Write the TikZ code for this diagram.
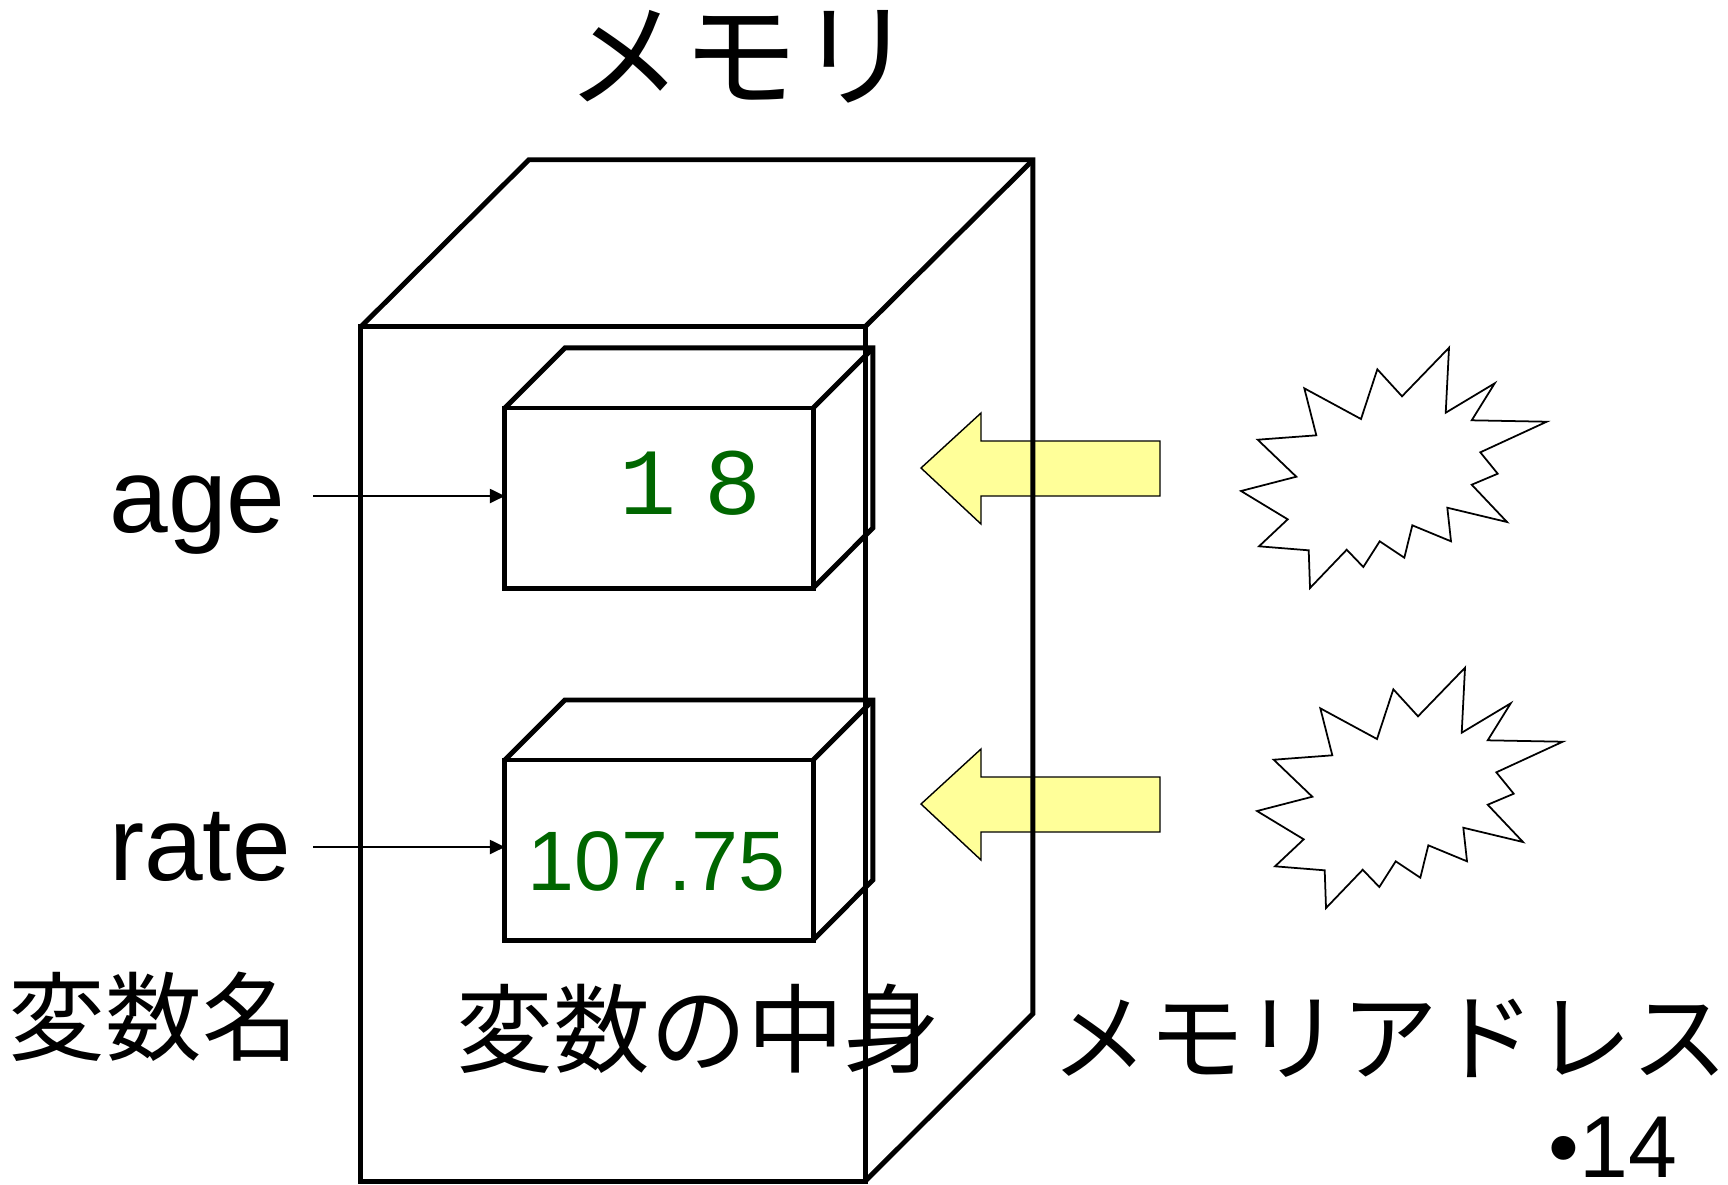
\documentclass[tikz,border=0pt]{standalone}
\usepackage{fontspec}
\setmainfont{Liberation Sans}
\newfontfamily\jp{Noto Sans CJK JP}
\newfontfamily\mono{Liberation Mono}
\usetikzlibrary{arrows.meta}
\definecolor{yarrow}{RGB}{255,255,153}
\definecolor{valgreen}{RGB}{0,102,0}
\tikzset{
  cube/.style={draw=black, line width=1.4pt, line join=miter},
  face/.style={cube, rectangle, inner sep=0pt, outer sep=0pt},
  ptr/.style={draw=black, line width=0.6pt, -{Triangle[length=0.15cm,width=0.14cm]}},
  block/.style={draw=black, fill=yarrow, line width=0.4pt, line join=miter},
  burst/.style={draw=black, fill=white, line width=0.5pt, line join=miter},
  lbl/.style={inner sep=0pt, outer sep=0pt, anchor=base},
  jtxt/.style={inner sep=0pt, outer sep=0pt, anchor=center},
}
\begin{document}
\begin{tikzpicture}[x=0.01cm, y=-0.01cm]
\useasboundingbox (0,0) rectangle (1728,1184);
\fill[white] (0,0) rectangle (1728,1184);

% yellow block arrows
\draw[block] (921,468) -- (981,413) -- (981,441) -- (1160,441) -- (1160,496) -- (981,496) -- (981,524) -- cycle;
\begin{scope}[shift={(0,336)}]
\draw[block] (921,468) -- (981,413) -- (981,441) -- (1160,441) -- (1160,496) -- (981,496) -- (981,524) -- cycle;
\end{scope}

% starbursts
\draw[burst] (1304.3,388.3) -- (1361,419) -- (1377.3,369.3) -- (1402,396.3) -- (1449,347.7) -- (1445.7,412.7) -- (1494.7,383.3) -- (1471.7,420.3) -- (1546.7,421.7) -- (1480.3,452.3) -- (1497.7,473.7) -- (1471.7,484.7) -- (1507,522) -- (1447.3,507.7) -- (1451,541.3) -- (1412.3,525.3) -- (1404.3,557.7) -- (1379.7,541.3) -- (1363.3,567) -- (1346.7,549.7) -- (1310,588) -- (1308.7,550.3) -- (1259,546.3) -- (1287.7,519.3) -- (1241,491) -- (1296.3,476.7) -- (1257.7,439.7) -- (1316.3,435.3) -- cycle;
\begin{scope}[shift={(16,320)}]
\draw[burst] (1304.3,388.3) -- (1361,419) -- (1377.3,369.3) -- (1402,396.3) -- (1449,347.7) -- (1445.7,412.7) -- (1494.7,383.3) -- (1471.7,420.3) -- (1546.7,421.7) -- (1480.3,452.3) -- (1497.7,473.7) -- (1471.7,484.7) -- (1507,522) -- (1447.3,507.7) -- (1451,541.3) -- (1412.3,525.3) -- (1404.3,557.7) -- (1379.7,541.3) -- (1363.3,567) -- (1346.7,549.7) -- (1310,588) -- (1308.7,550.3) -- (1259,546.3) -- (1287.7,519.3) -- (1241,491) -- (1296.3,476.7) -- (1257.7,439.7) -- (1316.3,435.3) -- cycle;
\end{scope}

% memory cuboid
\node[face, minimum width=5.04cm, minimum height=8.54cm] (mem) at (613,754) {};
\draw[cube] (mem.north west) -- ++(168,-167) -- ++(504,0) -- ++(0,854) -- (mem.south east);
\draw[cube] (mem.north east) -- ++(168,-167);

% variable boxes
\node[face, minimum width=3.08cm, minimum height=1.8cm] (f1) at (659,498) {};
\draw[cube] (f1.north west) -- ++(60,-60) -- ++(308,0) -- ++(0,180) -- (f1.south east);
\draw[cube] (f1.north east) -- ++(60,-60);

\node[face, minimum width=3.08cm, minimum height=1.8cm] (f2) at (659,850) {};
\draw[cube] (f2.north west) -- ++(60,-60) -- ++(308,0) -- ++(0,180) -- (f2.south east);
\draw[cube] (f2.north east) -- ++(60,-60);

% values
\node[lbl, text=valgreen] (v1) at (690,514) {\fontsize{27pt}{32pt}\selectfont\mono 1\kern0.28cm 8};
\node[lbl, text=valgreen] (v2) at (656.5,890) {\fontsize{24pt}{29pt}\selectfont 107.75};

% variable names and pointers
\node[lbl] (age) at (197.5,532) {\fontsize{30pt}{36pt}\selectfont age};
\node[lbl] (rate) at (200,880) {\fontsize{30pt}{36pt}\selectfont rate};
\coordinate (s1) at (313,496);
\coordinate (s2) at (313,847);
\draw[ptr] (s1) -- (s1 -| f1.west);
\draw[ptr] (s2) -- (s2 -| f2.west);

% Japanese labels
\node[jtxt] (title) at (740.5,56.5) {\fontsize{33pt}{40pt}\selectfont\jp メモリ};
\node[jtxt] (lname) at (154,1016.5) {\fontsize{27.5pt}{33pt}\selectfont\jp 変数名};
\node[jtxt] (lval) at (698.7,1028.7) {\fontsize{27.5pt}{33pt}\selectfont\jp 変数の中身};
\node[jtxt] (laddr) at (1390,1038.5) {\fontsize{27.5pt}{33pt}\selectfont\jp メモリアドレス};

% page number
\node[inner sep=0pt, outer sep=0pt, anchor=base east] (page) at (1677,1177) {\fontsize{25pt}{30pt}\selectfont •14};
\end{tikzpicture}
\end{document}
